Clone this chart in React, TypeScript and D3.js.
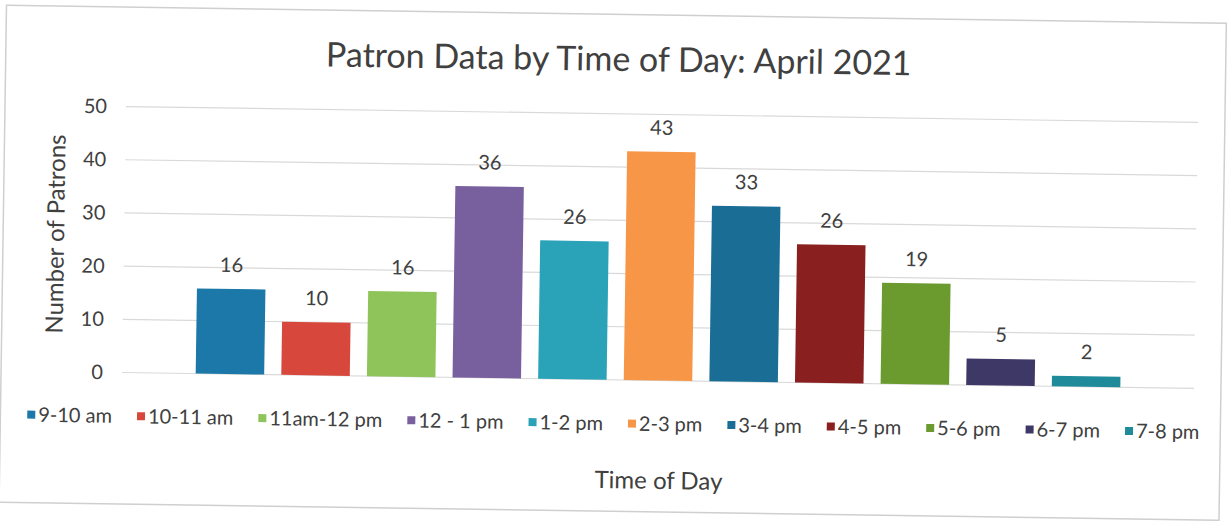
import React, { useEffect, useRef } from 'react';
import * as d3 from 'd3';

// chart values
const categories = ['9-10 am', '10-11 am', '11am-12 pm', '12 - 1 pm', '1-2 pm', '2-3 pm', '3-4 pm', '4-5 pm', '5-6 pm', '6-7 pm', '7-8 pm'];
const patrons = [16, 10, 16, 36, 26, 43, 33, 26, 19, 5, 2];
const colors = ['#1b78a8', '#d8473b', '#8fc45a', '#78609f', '#2aa2b8', '#f79646', '#1a6e96', '#8a1f1f', '#6b9a2e', '#3e3866', '#1f8a9a'];
const yTicks = [0, 10, 20, 30, 40, 50];

const W = 1227;
const H = 521;
const FONT = 'Lato, "Open Sans", sans-serif';
const TEXT = '#404040';

function App() {
    const ref = useRef<SVGSVGElement | null>(null);

    useEffect(() => {
        const svg = d3.select(ref.current);
        svg.selectAll('*').remove();

        // the scan is tilted a little, so the whole chart is turned
        const g = svg.append('g').attr('transform', 'rotate(0.85, 661, 380)');

        g.append('rect')
            .attr('x', 1).attr('y', 15)
            .attr('width', 1220).attr('height', 497)
            .attr('fill', '#fff')
            .attr('stroke', '#cfcfcf')
            .attr('stroke-width', 1.5);

        const x = d3.scaleBand<string>()
            .domain(categories)
            .range([122, 1194])
            .paddingInner(0.2)
            .paddingOuter(0.86);

        const y = d3.scaleLinear().domain([0, 50]).range([380.5, 114.5]);

        // gridlines
        g.selectAll('.grid')
            .data(yTicks)
            .enter()
            .append('line')
            .attr('x1', 122).attr('x2', 1194)
            .attr('y1', d => y(d)).attr('y2', d => y(d))
            .attr('stroke', '#d9d9d9')
            .attr('stroke-width', 1.2);

        g.selectAll('.tick')
            .data(yTicks)
            .enter()
            .append('text')
            .attr('x', 103)
            .attr('y', d => y(d))
            .attr('dy', '0.35em')
            .attr('text-anchor', 'end')
            .style('font-family', FONT)
            .style('font-size', '20px')
            .style('fill', TEXT)
            .text(d => d);

        g.selectAll('.bar')
            .data(patrons)
            .enter()
            .append('rect')
            .attr('x', (d, i) => x(categories[i]) as number)
            .attr('y', d => y(d))
            .attr('width', x.bandwidth())
            .attr('height', d => y(0) - y(d))
            .style('fill', (d, i) => colors[i]);

        g.selectAll('.label')
            .data(patrons)
            .enter()
            .append('text')
            .attr('x', (d, i) => (x(categories[i]) as number) + x.bandwidth() / 2)
            .attr('y', d => y(d) - 17)
            .attr('text-anchor', 'middle')
            .style('font-family', FONT)
            .style('font-size', '20px')
            .style('fill', TEXT)
            .text(d => d);

        g.append('text')
            .attr('x', 614).attr('y', 71.5)
            .attr('text-anchor', 'middle')
            .style('font-family', FONT)
            .style('font-size', '34px')
            .style('fill', TEXT)
            .text('Patron Data by Time of Day: April 2021');

        g.append('text')
            .attr('transform', 'translate(62, 243) rotate(-90)')
            .attr('text-anchor', 'middle')
            .style('font-family', FONT)
            .style('font-size', '24px')
            .style('fill', TEXT)
            .text('Number of Patrons');

        g.append('text')
            .attr('x', 660).attr('y', 489)
            .attr('text-anchor', 'middle')
            .style('font-family', FONT)
            .style('font-size', '24px')
            .style('fill', TEXT)
            .text('Time of Day');

        // legend, laid out from measured text widths
        const legend = g.append('g');
        const items = legend.selectAll('.item')
            .data(categories)
            .enter()
            .append('g');
        items.append('rect')
            .attr('width', 8).attr('height', 8)
            .attr('y', -4)
            .style('fill', (d, i) => colors[i]);
        items.append('text')
            .attr('x', 11)
            .attr('dy', '0.35em')
            .style('font-family', FONT)
            .style('font-size', '20px')
            .style('fill', TEXT)
            .text(d => d);

        const gap = 25;
        let pos = 0;
        const starts: number[] = [];
        items.each(function () {
            const t = d3.select(this).select('text').node() as SVGTextElement;
            starts.push(pos);
            pos += 11 + t.getComputedTextLength() + gap;
        });
        const total = pos - gap;
        const left = 614 - total / 2;
        items.attr('transform', (d, i) => `translate(${left + starts[i]}, 424)`);
    }, []);

    return (
        <svg ref={ref} width={W} height={H} style={{ display: 'block', position: 'absolute', left: 0, top: 0, background: '#fff' }} />
    );
}

export default App;
